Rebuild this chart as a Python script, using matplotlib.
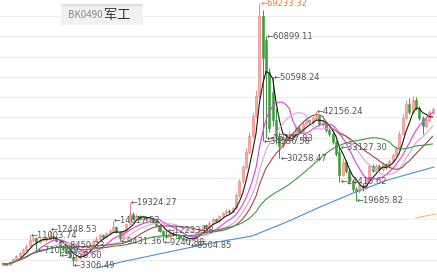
import numpy as np
import pandas as pd
import matplotlib
matplotlib.use('Agg')
import matplotlib.pyplot as plt
from matplotlib.patches import Rectangle

# daily candles
opens = [3600, 3900, 3650, 4300, 5000, 5800, 6500, 7300, 8400, 9700,
         10400, 9300, 9900, 10300, 10000, 10900, 10500, 9500, 8200, 7700,
         6600, 5600, 4700, 5300, 5900, 6800, 7500, 8600, 9500, 10200,
         11000, 10600, 11500, 12200, 13000, 11900, 10400, 12000, 13800, 16300,
         15400, 15900, 15200, 15700, 15000, 15400, 14400, 13500, 12200, 11000,
         10600, 11700, 11200, 11000, 10400, 10100, 9800, 9700, 10600, 11500,
         12600, 13500, 13000, 14200, 15100, 14600, 15800, 16500, 17200, 16800,
         17800, 21000, 24500, 28000, 32000, 36000, 41000, 46000, 66000, 60000,
         52000, 47000, 40000, 36000, 33500, 35500, 34800, 36500, 36000, 37800,
         37200, 39000, 39800, 39300, 40500, 40800, 38800, 39300, 37300, 36500,
         34500, 32000, 26000, 29500, 27000, 24500, 22500, 22000, 23500, 22800,
         25000, 28500, 27200, 28400, 27500, 28900, 28000, 29600, 31200, 32800,
         36500, 40500, 43800, 42000, 44800, 43000, 40500, 38500, 40000, 41800]
closes = [3900, 3650, 4300, 5000, 5800, 6500, 7300, 8400, 9700, 10400,
          9300, 9900, 10300, 10000, 10900, 10500, 9500, 8200, 7700, 6600,
          5600, 4700, 5300, 5900, 6800, 7500, 8600, 9500, 10200, 11000,
          10600, 11500, 12200, 13000, 11900, 10400, 12000, 13800, 16300, 15400,
          15900, 15200, 15700, 15000, 15400, 14400, 13500, 12200, 11000, 10600,
          11700, 11200, 11000, 10400, 10100, 9800, 9700, 10600, 11500, 12600,
          13500, 13000, 14200, 15100, 14600, 15800, 16500, 17200, 16800, 17800,
          21000, 24500, 28000, 32000, 36000, 41000, 46000, 66000, 55500, 52000,
          38000, 40000, 36000, 33500, 35500, 34800, 36500, 36000, 37800, 37200,
          39000, 39800, 39300, 40500, 40800, 38800, 39300, 37300, 36500, 34500,
          31500, 26000, 29500, 27000, 24500, 22500, 22000, 23500, 22800, 25000,
          28500, 27200, 28400, 27500, 28900, 28000, 29600, 31200, 32800, 36500,
          40500, 43800, 42000, 44800, 43000, 40500, 38500, 40000, 41800, 42600]
highs = [4200, 4050, 4500, 5300, 6100, 6900, 7700, 8800, 11003.74, 10800,
         10600, 10300, 10900, 10700, 12448.53, 11200, 10700, 9600, 8450.33, 8000,
         6800, 5800, 5600, 6200, 7100, 7900, 9000, 9900, 10800, 11500,
         11400, 11900, 12700, 14617.52, 13300, 12200, 12300, 14200, 19324.27, 16800,
         16400, 16200, 16100, 15900, 15800, 15600, 14600, 13700, 12400, 12233.58,
         11900, 12000, 11600, 11300, 10700, 10400, 10200, 10900, 11800, 12900,
         13900, 13800, 14600, 15500, 15400, 16200, 16900, 17600, 17500, 18200,
         21500, 25000, 28700, 32800, 37000, 42000, 47500, 69233.32, 67500, 60899.11,
         53000, 50598.24, 43000, 37000, 36500, 36300, 37100, 37000, 38300, 38400,
         39600, 40400, 40200, 41100, 42156.24, 41200, 39900, 39600, 37800, 36900,
         34800, 33127.30, 30500, 30000, 27500, 25000, 23200, 24000, 24200, 25500,
         29000, 29000, 28900, 28800, 29400, 29200, 30100, 31700, 33500, 37200,
         41500, 45000, 45500, 45900, 45600, 43500, 41000, 40800, 42500, 43200]
lows = [3450, 3450, 3550, 4100, 4800, 5600, 6200, 7100, 8200, 9300,
        7103.89, 9000, 9600, 9500, 9800, 10100, 9200, 5858.60, 7300, 6300,
        5200, 3306.49, 4400, 5000, 5700, 6500, 7300, 8300, 9200, 9900,
        10200, 10400, 11200, 11900, 11600, 9431.36, 10200, 11800, 13500, 14900,
        15000, 14800, 14900, 14600, 14700, 14100, 13100, 11800, 9240.88, 10300,
        10400, 10900, 10600, 10100, 9800, 9500, 8504.85, 9500, 10400, 11300,
        12300, 12700, 12800, 13900, 14300, 14400, 15500, 16200, 16400, 16600,
        17500, 20700, 24200, 27600, 31500, 35500, 40500, 45500, 34536.58, 35297.83,
        37000, 38500, 34000, 30258.47, 33000, 34200, 34500, 35400, 35600, 36700,
        36900, 38600, 38800, 39000, 40000, 38300, 38100, 36900, 36000, 34000,
        31000, 24410.62, 25800, 26500, 23800, 21800, 19685.82, 21500, 22200, 22500,
        24800, 26800, 26900, 27000, 27200, 27600, 27800, 29300, 30900, 32500,
        36200, 40000, 41500, 41700, 42500, 39800, 36500, 38000, 39500, 41200]

# long moving averages (candle index, value)
blue_idx = [27.9, 35.5, 49.7, 62.7, 74.8, 85.2, 95.2, 105.2, 115.5, 129.4]
blue_val = [2800, 4310, 6816, 9072, 10827, 14337, 18097, 21607, 24866, 28125]
yellow_idx = [123.9, 126.9, 129.9]
yellow_val = [15340, 15840, 16342]

# candles that carry a high / low tag
mark_idx = [8, 14, 10, 17, 18, 21, 33, 35, 38, 48, 49, 56, 77, 78, 79, 79, 81, 83, 94, 101, 101, 106]
mark_side = ['h', 'h', 'l', 'l', 'h', 'l', 'h', 'l', 'h', 'l', 'h', 'l', 'h', 'l', 'l', 'h',
             'h', 'l', 'h', 'h', 'l', 'l']

ma_windows = [5, 10, 15, 20, 40]
ma_colors = ['#1a1a1a', '#e23ce2', '#d9a3dd', '#a04848', '#3f9a3f']

W, H = 437, 275
fig = plt.figure(figsize=(W / 100, H / 100), dpi=100)
ax = fig.add_axes([0, 0, 1, 1])
ax.axis('off')

ybot, ytop = 1050, 69990
ax.set_ylim(ybot, ytop)
step = 3.33
ax.set_xlim(-3 / step, (W - 3) / step)

# horizontal grid
for py in np.arange(16, 262, 20.3):
    ax.axhline(ytop - py * (ytop - ybot) / H, color='#ececec', lw=0.7, zorder=0)

x = np.arange(len(closes))
o = np.array(opens)
c = np.array(closes)
hi = np.array(highs)
lo = np.array(lows)
up = c >= o
body_lo = np.minimum(o, c)
body_h = np.abs(c - o)

ax.vlines(x[up], lo[up], hi[up], color='#f08c84', lw=0.7, zorder=2)
ax.vlines(x[~up], lo[~up], hi[~up], color='#3a963a', lw=0.7, zorder=2)
ax.bar(x[up], body_h[up], bottom=body_lo[up], width=0.62, color='#f7a9a2',
       edgecolor='#ee7d74', lw=0.4, zorder=3)
ax.bar(x[~up], body_h[~up], bottom=body_lo[~up], width=0.62, color='#3d9c3d',
       edgecolor='#3d9c3d', lw=0.4, zorder=3)

s = pd.Series(closes)
for win, col in zip(ma_windows, ma_colors):
    ax.plot(x, s.rolling(win, min_periods=1).mean(), color=col, lw=0.8, zorder=4)
ax.plot(blue_idx, blue_val, color='#4a90d0', lw=0.8, zorder=4)
ax.plot(yellow_idx, yellow_val, color='#f2c14e', lw=0.8, zorder=4)

top = hi.max()
for i, side in zip(mark_idx, mark_side):
    v = hi[i] if side == 'h' else lo[i]
    col = '#f07a3a' if v == top else '#555555'
    ax.text(i + 0.3, v, '\u2190%.2f' % v, fontsize=6, color=col,
            ha='left', va='center', zorder=6, family='DejaVu Sans')

# title box
fig.add_artist(Rectangle((61 / W, 1 - 25 / H), 82 / W, 21 / H, transform=fig.transFigure,
                         facecolor='#f1f1f1', edgecolor='none', zorder=7))
fig.add_artist(Rectangle((61 / W, 1 - 5.5 / H), 82 / W, 1.5 / H, transform=fig.transFigure,
                         facecolor='#dddddd', edgecolor='none', zorder=8))
fig.text(68 / W, 1 - 15 / H, 'BK0490', fontsize=7, color='#8a8a8a', va='center',
         family=['Noto Sans CJK SC', 'DejaVu Sans'], zorder=9)
fig.text(104 / W, 1 - 15 / H, '军工', fontsize=9.5, color='#333333', va='center',
         family=['Noto Sans CJK SC', 'DejaVu Sans'], zorder=9)

fig.savefig('out.png', dpi=100)
